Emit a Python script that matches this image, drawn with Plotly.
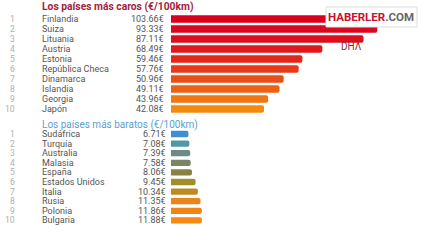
import plotly.graph_objects as go

top_title = "Los países más caros (€/100km)"
top_names = ["Finlandia", "Suiza", "Lituania", "Austria", "Estonia", "República Checa",
             "Dinamarca", "Islandia", "Georgia", "Japón"]
top_values = [103.66, 93.33, 87.11, 68.49, 59.46, 57.76, 50.96, 49.11, 43.96, 42.08]
top_colors = ["#d8001c", "#da0620", "#dc0e1e", "#e0181c", "#e4261a", "#e63a18",
              "#e84e16", "#ec6214", "#f07612", "#f28a10"]

bot_title = "Los países más baratos (€/100km)"
bot_names = ["Sudáfrica", "Turquía", "Australia", "Malasia", "España", "Estados Unidos",
             "Italia", "Rusia", "Polonia", "Bulgaria"]
bot_values = [6.71, 7.08, 7.39, 7.58, 8.06, 9.45, 10.34, 11.35, 11.86, 11.88]
bot_colors = ["#3e8ed4", "#4f98a6", "#6d8a84", "#7c8466", "#8a8242", "#a08e2c",
              "#be8a22", "#e8861a", "#f08414", "#f48a14"]

ranks = [str(i + 1) for i in range(10)]
pos = list(range(10))

W, H = 426, 240
FONT = "Roboto"

fig = go.Figure()
fig.add_trace(go.Bar(x=top_values, y=pos, orientation="h", marker=dict(color=top_colors, line=dict(width=0)),
                     width=0.75, xaxis="x", yaxis="y", hoverinfo="skip"))
fig.add_trace(go.Bar(x=bot_values, y=pos, orientation="h", marker=dict(color=bot_colors, line=dict(width=0)),
                     width=0.66, xaxis="x2", yaxis="y2", hoverinfo="skip"))

x0 = 171 / W
ann = []
# titles
ann.append(dict(text=f"<b>{top_title}</b>", x=40 / W, y=1 - 6.5 / H, xref="paper", yref="paper",
                xanchor="left", yanchor="middle", showarrow=False,
                font=dict(family=FONT, size=10.3, color="#a3233e")))
ann.append(dict(text=bot_title, x=40 / W, y=1 - 124.5 / H, xref="paper", yref="paper",
                xanchor="left", yanchor="middle", showarrow=False,
                font=dict(family=FONT, size=10, color="#5b9fd2")))

for yref, names, vals, vx in (("y", top_names, top_values, 166), ("y2", bot_names, bot_values, 168)):
    for i in range(10):
        ann.append(dict(text=ranks[i], x=17 / W, y=i, xref="paper", yref=yref, xanchor="right",
                        yanchor="middle", showarrow=False, font=dict(family=FONT, size=8.5, color="#b0b0b0")))
        ann.append(dict(text=names[i], x=40 / W, y=i, xref="paper", yref=yref, xanchor="left",
                        yanchor="middle", showarrow=False, font=dict(family=FONT, size=9, color="#555555")))
        ann.append(dict(text=f"{vals[i]:.2f}€", x=vx / W, y=i, xref="paper", yref=yref, xanchor="right",
                        yanchor="middle", showarrow=False, font=dict(family=FONT, size=9, color="#555555")))

# watermark
ann.append(dict(text="<b><span style='color:#c8102e'>HABERLER</span><span style='color:#666666'>.COM</span></b>",
                x=371 / W, y=1 - 17 / H, xref="paper", yref="paper", xanchor="center", yanchor="middle",
                showarrow=False, font=dict(family=FONT, size=11.5)))
ann.append(dict(text="DHΛ", x=351 / W, y=1 - 47 / H, xref="paper", yref="paper", xanchor="center",
                yanchor="middle", showarrow=False, font=dict(family=FONT, size=10, color="#8a2a3a")))

shapes = [dict(type="rect", xref="paper", yref="paper", x0=326 / W, x1=417 / W, y0=1 - 27 / H, y1=1 - 7 / H,
               fillcolor="white", line=dict(color="#dddddd", width=1), layer="above")]

fig.update_layout(
    width=W, height=H, margin=dict(l=0, r=0, t=0, b=0),
    paper_bgcolor="white", plot_bgcolor="white", showlegend=False,
    barcornerradius=2,
    xaxis=dict(domain=[x0, 1], range=[0, 255 / 2.21], visible=False, fixedrange=True),
    yaxis=dict(domain=[1 - 114 / H, 1 - 14 / H], range=[9.5, -0.5], visible=False, fixedrange=True),
    xaxis2=dict(domain=[x0, 1], range=[0, 255 / 2.6], visible=False, fixedrange=True, anchor="y2"),
    yaxis2=dict(domain=[1 - 225.2 / H, 1 - 129.2 / H], range=[9.5, -0.5], visible=False, fixedrange=True, anchor="x2"),
    annotations=ann, shapes=shapes,
)

fig.write_html("out.html")
